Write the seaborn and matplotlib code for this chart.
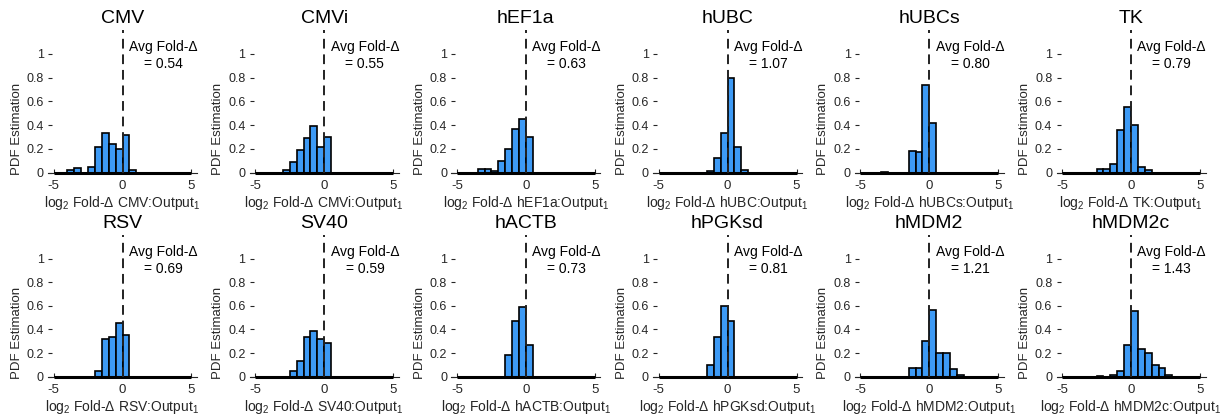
import numpy as np
import pandas as pd
import matplotlib
matplotlib.use("Agg")
import matplotlib.pyplot as plt
import seaborn as sns

sns.set_style("white")
plt.rcParams['font.family'] = ['Liberation Sans', 'DejaVu Sans']
plt.rcParams['mathtext.fontset'] = 'custom'
plt.rcParams['mathtext.rm'] = 'Liberation Sans'
plt.rcParams['mathtext.it'] = 'Liberation Sans:italic'

promoters = ["CMV", "CMVi", "hEF1a", "hUBC", "hUBCs", "TK",
             "RSV", "SV40", "hACTB", "hPGKsd", "hMDM2", "hMDM2c"]
avg_fold = [0.54, 0.55, 0.63, 1.07, 0.80, 0.79,
            0.69, 0.59, 0.73, 0.81, 1.21, 1.43]

bin_edges = np.arange(-5, 5.01, 0.5)

# PDF heights per bin (bins of width 0.5 from -5 to 5)
pdf_CMV    = [0, 0, 0.023, 0.04, 0, 0.05, 0.22, 0.33, 0.24, 0.20, 0.32, 0.02, 0, 0, 0, 0, 0, 0, 0, 0]
pdf_CMVi   = [0, 0, 0, 0, 0.02, 0.09, 0.19, 0.29, 0.39, 0.22, 0.30, 0, 0, 0, 0, 0, 0, 0, 0, 0]
pdf_hEF1a  = [0, 0, 0, 0.035, 0.035, 0.015, 0.10, 0.20, 0.37, 0.45, 0.30, 0, 0, 0, 0, 0, 0, 0, 0, 0]
pdf_hUBC   = [0, 0, 0, 0, 0, 0, 0, 0.017, 0.12, 0.335, 0.80, 0.22, 0.02, 0, 0, 0, 0, 0, 0, 0]
pdf_hUBCs  = [0, 0, 0, 0.004, 0, 0, 0, 0.185, 0.17, 0.735, 0.415, 0, 0, 0, 0, 0, 0, 0, 0, 0]
pdf_TK     = [0, 0, 0, 0, 0, 0.035, 0.03, 0.07, 0.355, 0.55, 0.40, 0.05, 0.02, 0, 0, 0, 0, 0, 0, 0]
pdf_RSV    = [0, 0, 0, 0, 0, 0, 0.05, 0.32, 0.335, 0.455, 0.35, 0, 0, 0, 0, 0, 0, 0, 0, 0]
pdf_SV40   = [0, 0, 0, 0, 0, 0.05, 0.135, 0.335, 0.39, 0.32, 0.285, 0, 0, 0, 0, 0, 0, 0, 0, 0]
pdf_hACTB  = [0, 0, 0, 0, 0, 0, 0, 0.18, 0.47, 0.59, 0.27, 0, 0, 0, 0, 0, 0, 0, 0, 0]
pdf_hPGKsd = [0, 0, 0, 0, 0, 0, 0, 0.10, 0.335, 0.60, 0.47, 0, 0, 0, 0, 0, 0, 0, 0, 0]
pdf_hMDM2  = [0, 0, 0, 0, 0, 0, 0, 0.07, 0.07, 0.30, 0.565, 0.20, 0.20, 0.065, 0.015, 0, 0, 0, 0, 0]
pdf_hMDM2c = [0, 0, 0, 0, 0, 0.003, 0, 0.015, 0.05, 0.265, 0.555, 0.235, 0.20, 0.10, 0.07, 0.015, 0, 0, 0, 0]

all_pdfs = [pdf_CMV, pdf_CMVi, pdf_hEF1a, pdf_hUBC, pdf_hUBCs, pdf_TK,
            pdf_RSV, pdf_SV40, pdf_hACTB, pdf_hPGKsd, pdf_hMDM2, pdf_hMDM2c]

bar_color = "#3d9af5"

W, H = 1222, 419
fig = plt.figure(figsize=(W / 100, H / 100), dpi=100)

ax_w = 149 / W
ax_h_top = (172.7 - 30) / H
ax_h_bot = (376.7 - 235) / H
centers = (bin_edges[:-1] + bin_edges[1:]) / 2

for i, (name, pdf, avg) in enumerate(zip(promoters, all_pdfs, avg_fold)):
    row, col = divmod(i, 6)
    left = (48 + col * 201.7) / W
    if row == 0:
        bottom = (H - 172.7) / H
        h = ax_h_top
    else:
        bottom = (H - 376.7) / H
        h = ax_h_bot
    ax = fig.add_axes([left, bottom, ax_w, h])
    df = pd.DataFrame({"fold": centers, "pdf": pdf})
    sns.histplot(data=df, x="fold", weights="pdf", binwidth=0.5, binrange=(-5, 5),
                 stat="count", color=bar_color, edgecolor="black", linewidth=1.2,
                 alpha=1.0, ax=ax)
    for p in ax.patches:
        p.set_clip_on(False)
    # base of the histogram (zero-height bins drawn as a thick edge)
    ax.hlines(0, bin_edges[0], bin_edges[-1], color="black", linewidth=2.2,
              clip_on=False, zorder=4)
    ax.axvline(0, color="#222222", linestyle=(0, (5, 3)), linewidth=1.4, zorder=5)
    ax.set_xlim(-5.4, 5.4)
    ax.set_ylim(0, 1.2)
    ax.set_xticks([-5, 0, 5])
    ax.set_xticklabels(["-5", "0", "5"])
    ax.set_yticks([0, 0.2, 0.4, 0.6, 0.8, 1.0])
    ax.set_yticklabels(["0", "0.2", "0.4", "0.6", "0.8", "1"])
    ax.tick_params(axis="x", direction="in", length=3, width=0.8,
                   labelsize=9.5, colors="#262626", pad=5, bottom=True)
    ax.tick_params(axis="y", direction="in", length=3, width=0.8,
                   labelsize=9, colors="#262626", pad=3, left=True)
    for s in ["top", "right", "left"]:
        ax.spines[s].set_visible(False)
    ax.spines["bottom"].set_color("#262626")
    ax.spines["bottom"].set_linewidth(0.8)
    ax.set_title(name, fontsize=14, pad=5, color="black")
    ax.set_ylabel("PDF Estimation", fontsize=9.5, color="#262626")
    ax.yaxis.set_label_coords(-0.17, 0.31)
    ax.set_xlabel(r"log$_2$ Fold-$\Delta$ " + name + r":Output$_1$",
                  fontsize=10, color="#262626", labelpad=2)
    ax.text(2.95, 0.985, "Avg Fold-\u0394\n= %.2f" % avg, ha="center", va="center",
            fontsize=10, color="black", linespacing=1.3)

fig.savefig("out.png", dpi=100)
